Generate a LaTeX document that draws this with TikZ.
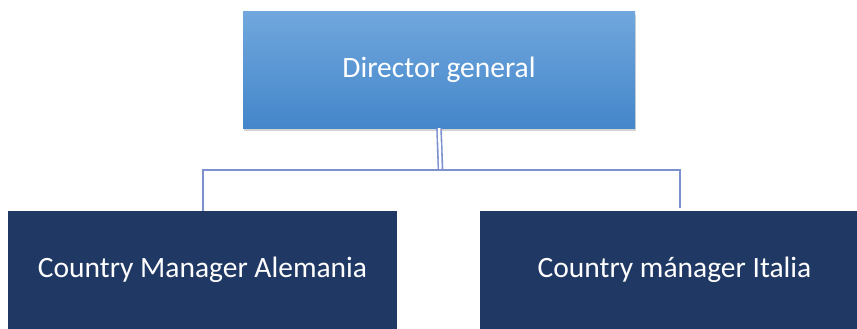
\documentclass[tikz,border=0pt]{standalone}
\usepackage{fontspec}
\setmainfont{Carlito}
\usetikzlibrary{shadows,calc}
\definecolor{topblue}{RGB}{112,167,221}
\definecolor{botblue}{RGB}{68,134,202}
\definecolor{navy}{RGB}{32,56,100}
\definecolor{linkblue}{RGB}{124,145,205}

\begin{document}
\begin{tikzpicture}[x=1pt,y=-1pt,
boss/.style={rectangle,minimum width=392pt,minimum height=116pt,
  top color=topblue,bottom color=botblue,text=white,
  font=\fontsize{29.5}{34}\selectfont,
  drop shadow={shadow xshift=1pt,shadow yshift=-3pt,opacity=0.35}},
manager/.style={rectangle,fill=navy,minimum width=389pt,minimum height=118pt,
  text=white,font=\fontsize{29.5}{34}\selectfont},
link/.style={draw=linkblue,line width=2pt}]
\useasboundingbox (0,0) rectangle (857,329);
\clip (0,0) rectangle (857,329);
\node[boss] (dir) at (439,70) {Director general};
\node[manager] (cma) at (202.5,270) {Country Manager Alemania};
\node[manager] (cmi) at (674.5,270) {Country mánager Italia};
\coordinate (hub) at (440.5,170);
\path[link,double=white,double distance=2.5pt,line width=1.6pt]
(dir.south) -- (hub);
\path[link,shorten >=3pt]
(hub) -| (cma.north)
(hub) -| ([xshift=5pt]cmi.north);
\end{tikzpicture}
\end{document}
